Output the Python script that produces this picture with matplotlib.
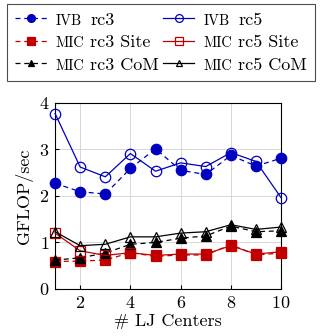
import matplotlib
matplotlib.use("Agg")
import matplotlib.pyplot as plt
from matplotlib.lines import Line2D

plt.rcParams['font.family'] = 'cmr10'
plt.rcParams['mathtext.fontset'] = 'cm'
plt.rcParams['axes.formatter.use_mathtext'] = True

# data
lj_centers = [1, 2, 3, 4, 5, 6, 7, 8, 9, 10]
ivb_rc3 = [2.27, 2.09, 2.04, 2.59, 3.01, 2.55, 2.46, 2.87, 2.64, 2.81]
ivb_rc5 = [3.77, 2.62, 2.41, 2.91, 2.53, 2.71, 2.63, 2.93, 2.74, 1.96]
mic_rc3_site = [0.59, 0.60, 0.62, 0.78, 0.70, 0.73, 0.73, 0.95, 0.73, 0.77]
mic_rc5_site = [1.20, 0.82, 0.72, 0.78, 0.72, 0.75, 0.75, 0.93, 0.75, 0.80]
mic_rc3_com = [0.62, 0.67, 0.77, 0.96, 1.00, 1.09, 1.14, 1.35, 1.23, 1.25]
mic_rc5_com = [1.23, 0.93, 0.96, 1.12, 1.12, 1.20, 1.23, 1.38, 1.28, 1.33]

# (prefix in small caps, rest)
labels = [('IVB', 'rc3'), ('MIC', 'rc3 Site'), ('MIC', 'rc3 CoM'),
          ('IVB', 'rc5'), ('MIC', 'rc5 Site'), ('MIC', 'rc5 CoM')]

BLUE = '#0000c0'
RED = '#c00000'
FS = 13
SC = 0.8  # small caps scale
DASH = (0, (4, 3))

fig = plt.figure(figsize=(3.22, 3.36), dpi=100)
ax = fig.add_axes([0.171, 0.140, 0.702, 0.554])

series = [
    (ivb_rc3, BLUE, 'o', True, DASH),
    (mic_rc3_site, RED, 's', True, DASH),
    (mic_rc3_com, 'black', '^', True, DASH),
    (ivb_rc5, BLUE, 'o', False, '-'),
    (mic_rc5_site, RED, 's', False, '-'),
    (mic_rc5_com, 'black', '^', False, '-'),
]
ms = {'o': 7.5, 's': 7, '^': 6.5}

handles = []
for vals, col, mk, filled, ls in series:
    ax.plot(lj_centers, vals, color=col, ls=ls, lw=0.9, marker=mk, ms=ms[mk],
            mfc=col if filled else 'none', mec=col, mew=0.9, zorder=3, clip_on=False)
    handles.append(Line2D([], [], color=col, ls=ls, lw=0.9, marker=mk, ms=ms[mk] * 0.75,
                          mfc=col if filled else 'none', mec=col, mew=0.9))

ax.set_xlim(1, 10)
ax.set_ylim(0, 4)
ax.set_xticks([2, 4, 6, 8, 10])
ax.set_yticks([0, 1, 2, 3, 4])
ax.grid(True, color='0.82', lw=0.6)
ax.set_axisbelow(True)
ax.tick_params(direction='in', length=3, labelsize=FS, top=False, right=False, pad=4)
for sp in ax.spines.values():
    sp.set_linewidth(0.8)
ax.set_xlabel('# LJ Centers', fontsize=FS, labelpad=2)
ax.set_ylabel('GFLOP/sec', fontsize=FS, labelpad=4)

# measure room needed for the small caps prefix
renderer = fig.canvas.get_renderer()
probe = fig.text(0, 0, 'MIC', fontsize=FS * SC)
w_pre = probe.get_window_extent(renderer).width
probe.remove()
probe = fig.text(0, 0, 'a a', fontsize=FS)
w_sp = probe.get_window_extent(renderer).width
probe.remove()
probe = fig.text(0, 0, 'aa', fontsize=FS)
w_sp -= probe.get_window_extent(renderer).width
probe.remove()
fs_px = FS * fig.dpi / 72
gap = 0.5 * fs_px

leg = fig.legend(handles, [l[1] for l in labels], ncol=2, loc='upper center',
                 bbox_to_anchor=(0.5, 1 - 4 / 336), borderaxespad=0,
                 frameon=True, fancybox=False,
                 edgecolor='0.3', framealpha=1, fontsize=FS, handlelength=1.75,
                 handletextpad=(gap + w_pre + w_sp) / fs_px,
                 columnspacing=0.2, borderpad=0.45, labelspacing=0.38)
leg.get_frame().set_linewidth(0.8)

fig.canvas.draw()
W, H = fig.bbox.width, fig.bbox.height
for t, (pre, _) in zip(leg.get_texts(), labels):
    bb = t.get_window_extent(renderer)
    x0 = bb.x0
    base = t.get_transform().transform(t.get_position())[1]
    fig.text((x0 - w_sp - w_pre) / W, base / H, pre, fontsize=FS * SC,
             va='baseline', ha='left', zorder=10)

fig.savefig('out.png', dpi=100)
